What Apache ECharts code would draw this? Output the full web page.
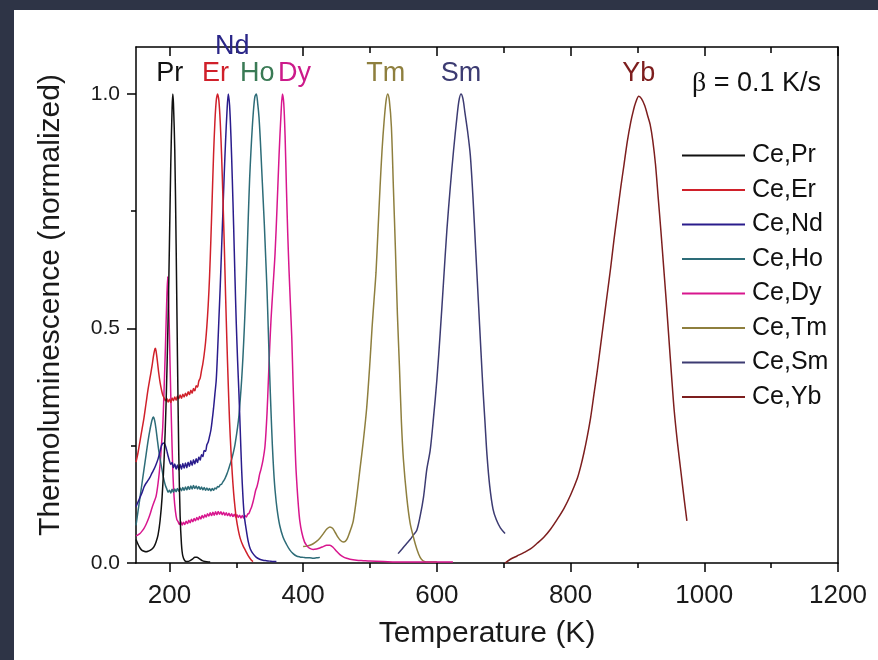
<!DOCTYPE html>
<html>
<head>
<meta charset="utf-8">
<title>Thermoluminescence glow curves</title>
<script src="https://cdn.jsdelivr.net/npm/echarts@6/dist/echarts.min.js"></script>
<style>
  html, body { margin: 0; padding: 0; background: #2e3446; }
  #paper { position: absolute; left: 14px; top: 10px; right: 0; bottom: 0; background: #ffffff; }
  #chart { position: absolute; left: 0; top: 0; width: 878px; height: 660px; }
</style>
</head>
<body>
<div id="paper"></div>
<div id="chart"></div>
<script>
// Glow curves [temperature K, normalized TL intensity], heating rate 0.1 K/s
const cePr = [[150,0.05],[153,0.04],[156,0.032],[159,0.027],[162,0.025],[165,0.024],[168,0.025],[171,0.027],[174,0.03],[177,0.035],[180,0.045],[183,0.06],[186,0.09],[189,0.14],[192,0.22],[195,0.34],[198,0.52],[200,0.68],[202,0.85],[204,0.97],[205,1.0],[206,0.98],[208,0.88],[210,0.68],[212,0.44],[214,0.23],[216,0.1],[218,0.04],[220,0.015],[223,0.005],[227,0.003],[231,0.005],[235,0.009],[238,0.012],[241,0.012],[245,0.009],[249,0.005],[253,0.003],[258,0.002],[261,0.002]];

const ceEr = [[150,0.215],[153,0.235],[156,0.26],[159,0.285],[162,0.31],[165,0.34],[168,0.37],[171,0.395],[174,0.42],[176,0.44],[178,0.455],[179,0.458],[180,0.452],[182,0.43],[184,0.405],[186,0.385],[188,0.37],[190,0.358],[192,0.352],[194,0.346],[196,0.351],[198,0.343],[200,0.349],[202,0.342],[204,0.352],[206,0.346],[208,0.354],[210,0.347],[212,0.356],[214,0.35],[216,0.358],[218,0.351],[220,0.36],[222,0.354],[224,0.362],[226,0.356],[228,0.365],[230,0.359],[232,0.368],[234,0.362],[236,0.372],[238,0.367],[240,0.378],[242,0.375],[244,0.388],[246,0.394],[248,0.41],[250,0.425],[252,0.445],[254,0.47],[256,0.505],[258,0.55],[260,0.61],[262,0.69],[264,0.78],[266,0.87],[268,0.94],[270,0.985],[272,1.0],[274,0.985],[276,0.94],[278,0.87],[280,0.78],[282,0.68],[284,0.57],[286,0.47],[288,0.38],[290,0.3],[292,0.24],[294,0.19],[296,0.15],[298,0.12],[300,0.095],[303,0.07],[306,0.052],[310,0.037],[314,0.026],[318,0.015],[322,0.007],[325,0.003]];

const ceNd = [[150,0.12],[153,0.13],[156,0.14],[159,0.15],[162,0.162],[165,0.17],[168,0.176],[171,0.183],[174,0.192],[177,0.2],[180,0.21],[183,0.222],[186,0.238],[188,0.25],[190,0.255],[192,0.256],[194,0.25],[196,0.24],[198,0.228],[200,0.218],[202,0.21],[204,0.214],[206,0.203],[208,0.211],[210,0.2],[212,0.209],[214,0.199],[216,0.21],[218,0.2],[220,0.212],[222,0.202],[224,0.213],[226,0.203],[228,0.215],[230,0.206],[232,0.218],[234,0.208],[236,0.22],[238,0.211],[240,0.222],[242,0.214],[244,0.226],[246,0.219],[248,0.231],[250,0.227],[252,0.24],[254,0.238],[256,0.252],[258,0.258],[260,0.27],[262,0.283],[264,0.305],[266,0.33],[268,0.36],[270,0.39],[272,0.45],[274,0.52],[276,0.59],[278,0.67],[280,0.75],[282,0.83],[284,0.9],[286,0.96],[288,1.0],[290,0.975],[292,0.91],[294,0.82],[296,0.72],[298,0.61],[300,0.51],[302,0.43],[304,0.36],[306,0.28],[308,0.2],[310,0.14],[312,0.1],[315,0.07],[318,0.045],[321,0.03],[325,0.02],[330,0.012],[335,0.008],[340,0.006],[345,0.005],[350,0.004],[355,0.003],[360,0.003]];

const ceHo = [[150,0.08],[153,0.11],[156,0.14],[159,0.17],[162,0.2],[165,0.23],[168,0.26],[171,0.285],[174,0.305],[176,0.311],[178,0.303],[180,0.285],[182,0.262],[184,0.24],[186,0.222],[188,0.206],[190,0.19],[192,0.176],[194,0.165],[196,0.158],[198,0.151],[200,0.155],[202,0.149],[204,0.157],[206,0.151],[208,0.158],[210,0.152],[212,0.159],[214,0.153],[216,0.16],[218,0.154],[220,0.161],[222,0.155],[224,0.162],[226,0.156],[228,0.163],[230,0.157],[232,0.164],[234,0.158],[236,0.165],[238,0.159],[240,0.164],[242,0.158],[244,0.163],[246,0.157],[248,0.162],[250,0.156],[252,0.161],[254,0.155],[256,0.16],[258,0.155],[260,0.159],[262,0.154],[264,0.159],[266,0.155],[268,0.16],[270,0.158],[272,0.163],[274,0.162],[276,0.167],[278,0.168],[280,0.173],[282,0.177],[284,0.183],[286,0.19],[288,0.198],[290,0.207],[292,0.216],[294,0.226],[296,0.238],[298,0.252],[300,0.27],[302,0.29],[304,0.315],[306,0.35],[308,0.39],[310,0.44],[312,0.5],[314,0.57],[316,0.65],[318,0.74],[320,0.82],[322,0.88],[324,0.93],[326,0.97],[328,0.995],[330,1.0],[332,0.98],[334,0.95],[336,0.9],[338,0.84],[340,0.78],[342,0.72],[344,0.65],[346,0.58],[348,0.49],[350,0.4],[352,0.32],[354,0.25],[356,0.195],[358,0.155],[361,0.115],[365,0.08],[370,0.055],[375,0.04],[380,0.028],[385,0.02],[390,0.015],[395,0.013],[400,0.012],[405,0.011],[410,0.011],[415,0.01],[420,0.011],[425,0.012]];

const ceDy = [[150,0.058],[153,0.06],[156,0.063],[159,0.068],[162,0.074],[165,0.082],[168,0.092],[171,0.104],[174,0.118],[177,0.13],[180,0.142],[183,0.17],[186,0.21],[188,0.25],[190,0.29],[192,0.37],[194,0.46],[196,0.56],[197.4,0.61],[199,0.55],[201,0.42],[203,0.3],[205,0.2],[207,0.14],[209,0.11],[211,0.093],[213,0.088],[215,0.082],[217,0.088],[219,0.081],[221,0.087],[223,0.082],[225,0.089],[227,0.084],[229,0.091],[231,0.086],[233,0.093],[235,0.088],[237,0.095],[239,0.09],[241,0.097],[243,0.092],[245,0.099],[247,0.094],[249,0.101],[251,0.096],[253,0.103],[255,0.098],[257,0.105],[259,0.1],[261,0.107],[263,0.101],[265,0.108],[267,0.102],[269,0.109],[271,0.103],[273,0.11],[275,0.104],[277,0.109],[279,0.103],[281,0.108],[283,0.102],[285,0.107],[287,0.101],[289,0.106],[291,0.1],[293,0.105],[295,0.099],[297,0.104],[299,0.098],[301,0.103],[303,0.097],[305,0.102],[307,0.096],[309,0.101],[311,0.096],[313,0.101],[315,0.098],[317,0.104],[319,0.106],[321,0.113],[323,0.12],[325,0.13],[327,0.142],[329,0.155],[331,0.163],[333,0.175],[335,0.19],[337,0.2],[340,0.22],[343,0.25],[346,0.32],[348,0.39],[350,0.46],[352,0.52],[355,0.59],[358,0.66],[361,0.76],[364,0.87],[367,0.96],[369,1.0],[371,0.98],[373,0.91],[375,0.8],[377,0.7],[379,0.62],[381,0.55],[383,0.48],[385,0.38],[387,0.29],[389,0.21],[391,0.16],[393,0.12],[395,0.09],[398,0.065],[402,0.045],[406,0.036],[410,0.031],[415,0.029],[420,0.03],[425,0.032],[430,0.035],[435,0.038],[440,0.038],[445,0.033],[450,0.025],[455,0.018],[460,0.013],[465,0.01],[470,0.008],[480,0.006],[490,0.005],[500,0.004],[520,0.003],[550,0.002],[580,0.002],[600,0.002],[624,0.002]];

const ceTm = [[400,0.035],[405,0.036],[410,0.038],[415,0.041],[420,0.046],[425,0.053],[430,0.062],[435,0.072],[440,0.077],[444,0.074],[448,0.065],[452,0.055],[456,0.048],[460,0.045],[463,0.046],[466,0.052],[469,0.063],[472,0.075],[475,0.09],[480,0.14],[485,0.2],[490,0.26],[495,0.33],[500,0.43],[503,0.5],[506,0.56],[509,0.62],[512,0.71],[515,0.8],[518,0.88],[521,0.94],[524,0.985],[526.5,1.0],[529,0.985],[532,0.93],[535,0.8],[538,0.67],[541,0.53],[544,0.42],[547,0.3],[550,0.22],[555,0.14],[560,0.085],[565,0.055],[570,0.03],[575,0.012],[580,0.004],[590,0.002],[600,0.002]];

const ceSm = [[542,0.02],[548,0.03],[554,0.04],[560,0.05],[565,0.06],[570,0.07],[575,0.1],[580,0.14],[585,0.2],[590,0.24],[595,0.31],[600,0.39],[605,0.49],[610,0.6],[615,0.71],[620,0.8],[625,0.88],[630,0.95],[633,0.985],[636,1.0],[639,0.99],[642,0.96],[646,0.92],[650,0.87],[654,0.78],[658,0.67],[662,0.56],[666,0.45],[669,0.37],[672,0.3],[675,0.23],[679,0.165],[684,0.115],[689,0.092],[695,0.075],[702,0.063]];

const ceYb = [[702,0.0],[710,0.008],[720,0.015],[730,0.022],[740,0.03],[750,0.042],[760,0.055],[770,0.072],[780,0.093],[790,0.116],[800,0.145],[810,0.18],[815,0.205],[820,0.235],[825,0.27],[830,0.31],[835,0.36],[840,0.41],[845,0.465],[850,0.52],[855,0.575],[860,0.63],[865,0.69],[870,0.745],[875,0.8],[880,0.85],[885,0.9],[890,0.94],[894,0.965],[897,0.98],[902,0.995],[906,0.99],[911,0.975],[915,0.955],[919,0.935],[923,0.9],[927,0.85],[931,0.78],[935,0.71],[939,0.635],[943,0.56],[947,0.48],[951,0.4],[955,0.325],[960,0.255],[965,0.195],[970,0.135],[974,0.09]];

const seriesNames = ['Ce,Pr','Ce,Er','Ce,Nd','Ce,Ho','Ce,Dy','Ce,Tm','Ce,Sm','Ce,Yb'];
const seriesData = [cePr, ceEr, ceNd, ceHo, ceDy, ceTm, ceSm, ceYb];
const peakNames = ['Pr','Er','Nd','Ho','Dy','Tm','Sm','Yb'];
const peakT = [205, 272, 288, 330, 369, 526.5, 636, 902];
const peakV = [1, 1, 1, 1, 1, 1, 1, 1];

const xMajor = [200, 400, 600, 800, 1000, 1200];
const xMinor = [300, 500, 700, 900, 1100];
const yMajor = [0, 0.5, 1.0];
const yMinor = [0.25, 0.75];

// styling
const lineColors = ['#111111','#d0202a','#2a1c8c','#2d6c78','#d8168e','#8e7f3e','#3c3b72','#7d1e1e'];
const tagColors  = ['#111111','#d0202a','#2a2688','#3a7a55','#cc1a8a','#8e7f3e','#3c3b72','#7d1e1e'];
const tagOffset  = [[-3,-20],[-2,-20],[4,-47],[1,-20],[12,-20],[-2,-20],[0,-20],[0,-20]];
const FONT = '"Liberation Sans", Arial, Helvetica, sans-serif';
const AXIS = '#000';
const TICK = { color: AXIS, width: 1.5 };

const chart = echarts.init(document.getElementById('chart'), null, { renderer: 'canvas' });

const series = seriesData.map((d, i) => ({
  name: seriesNames[i],
  type: 'line',
  data: d,
  xAxisIndex: 0,
  yAxisIndex: 0,
  showSymbol: false,
  smooth: 0.3,
  color: lineColors[i],
  lineStyle: { width: 1.5, color: lineColors[i] },
  z: 10 - i,
  markPoint: {
    silent: true,
    symbol: 'circle',
    symbolSize: 0,
    animation: false,
    data: [{ coord: [peakT[i], peakV[i]] }],
    label: {
      show: true,
      position: 'inside',
      formatter: peakNames[i],
      offset: tagOffset[i],
      fontFamily: FONT,
      fontSize: 27,
      color: tagColors[i]
    }
  }
}));

// four grids share one plot rectangle: main axes, minor ticks, mirrored frame, mirrored minor ticks
const rect = { left: 136, right: 40, top: 47, bottom: 97, containLabel: false };
const xBase = (g, extra) => Object.assign({ type: 'value', gridIndex: g, min: 150, max: 1200, splitLine: { show: false } }, extra);
const yBase = (g, extra) => Object.assign({ type: 'value', gridIndex: g, min: 0, max: 1.1, splitLine: { show: false } }, extra);
const hiddenLabel = { show: false };

chart.setOption({
  backgroundColor: 'transparent',
  animation: false,
  textStyle: { fontFamily: FONT },
  grid: [rect, rect, rect, rect],
  xAxis: [
    xBase(0, {
      position: 'bottom',
      axisLine: { show: true, onZero: false, lineStyle: TICK },
      axisTick: { show: true, customValues: xMajor, length: 9, inside: false, lineStyle: TICK },
      axisLabel: { show: true, customValues: xMajor, fontSize: 26, color: '#1a1a1a', margin: 20, fontFamily: FONT,
        formatter: v => String(v) },
      name: 'Temperature (K)',
      nameLocation: 'middle',
      nameGap: 56,
      nameTextStyle: { fontSize: 30, color: '#1a1a1a', fontFamily: FONT }
    }),
    xBase(1, {
      position: 'bottom',
      axisLine: { show: false, onZero: false },
      axisTick: { show: true, customValues: xMinor, length: 5, inside: false, lineStyle: TICK },
      axisLabel: hiddenLabel
    }),
    xBase(2, {
      position: 'top',
      axisLine: { show: true, onZero: false, lineStyle: TICK },
      axisTick: { show: true, customValues: xMajor, length: 9, inside: true, lineStyle: TICK },
      axisLabel: hiddenLabel
    }),
    xBase(3, {
      position: 'top',
      axisLine: { show: false, onZero: false },
      axisTick: { show: true, customValues: xMinor, length: 6, inside: true, lineStyle: TICK },
      axisLabel: hiddenLabel
    })
  ],
  yAxis: [
    yBase(0, {
      position: 'left',
      axisLine: { show: true, onZero: false, lineStyle: TICK },
      axisTick: { show: true, customValues: yMajor, length: 9, inside: false, lineStyle: TICK },
      axisLabel: {
        show: true, customValues: yMajor, fontSize: 21, color: '#1a1a1a', margin: 16, fontFamily: FONT,
        formatter: v => v.toFixed(1)
      },
      name: 'Thermoluminescence (normalized)',
      nameLocation: 'middle',
      nameGap: 70,
      nameTextStyle: { fontSize: 30, color: '#1a1a1a', fontFamily: FONT }
    }),
    yBase(1, {
      position: 'left',
      axisLine: { show: false, onZero: false },
      axisTick: { show: true, customValues: yMinor, length: 5, inside: false, lineStyle: TICK },
      axisLabel: hiddenLabel
    }),
    yBase(2, {
      position: 'right',
      axisLine: { show: true, onZero: false, lineStyle: TICK },
      axisTick: { show: false },
      axisLabel: hiddenLabel
    }),
    yBase(3, { show: false, axisLine: { onZero: false } })
  ],
  legend: {
    orient: 'vertical',
    left: 677,
    top: 138,
    icon: 'rect',
    itemWidth: 63,
    itemHeight: 2,
    itemGap: 9.5,
    selectedMode: false,
    data: seriesNames,
    textStyle: { fontSize: 25, color: '#111', fontFamily: FONT, padding: [0, 0, 0, 2] }
  },
  graphic: [
    {
      type: 'text',
      left: 692,
      top: 70,
      style: {
        text: '{b|β} = 0.1 K/s',
        font: '27px ' + FONT,
        fill: '#111',
        rich: { b: { fontFamily: '"Liberation Serif", "DejaVu Serif", serif', fontSize: 28, fill: '#111' } }
      }
    }
  ],
  series: series
});
</script>
</body>
</html>
